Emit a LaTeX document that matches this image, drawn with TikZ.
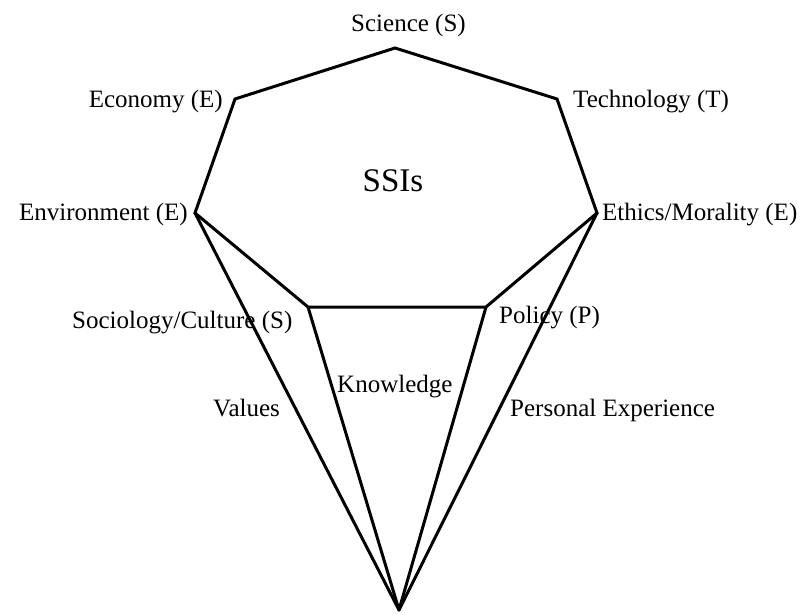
\documentclass[tikz,border=0pt]{standalone}
\usepackage{fontspec}
\setmainfont{Liberation Serif}
\begin{document}
\begin{tikzpicture}[x=1pt,y=-1pt,
  edge/.style={line width=3pt,line join=miter,line cap=round},
  lbl/.style={inner sep=0pt,font=\fontsize{25}{29}\selectfont},
  title/.style={inner sep=0pt,font=\fontsize{33}{38}\selectfont}]
\useasboundingbox (0,0) rectangle (805,615);
% corners of the octagon and the common apex below it
\coordinate (sci) at (395,48);
\coordinate (eco) at (235,99);
\coordinate (tec) at (557,99);
\coordinate (env) at (195,213);
\coordinate (eth) at (597,213);
\coordinate (soc) at (308,307);
\coordinate (pol) at (486,307);
\coordinate (apex) at (399,610);
% octagon
\draw[edge] (sci) -- (eco) -- (env) -- (soc) -- (pol) -- (eth) -- (tec) -- cycle;
% funnel lines to the apex
\draw[edge] (env) -- (apex);
\draw[edge] (soc) -- (apex);
\draw[edge] (pol) -- (apex);
\draw[edge] (eth) -- (apex);
% labels
\node[title] (ssis) at (393,181) {SSIs};
\node[lbl,anchor=base west] (lsci) at (351,32) {Science (S)};
\node[lbl,anchor=base east] (leco) at (223,108) {Economy (E)};
\node[lbl,anchor=base west] (ltec) at (573,108) {Technology (T)};
\node[lbl,anchor=base east] (lenv) at (188,220) {Environment (E)};
\node[lbl,anchor=base west] (leth) at (602,220) {Ethics/Morality (E)};
\node[lbl,anchor=base west] (lsoc) at (72,328) {Sociology/Culture (S)};
\node[lbl,anchor=base west] (lpol) at (499,323) {Policy (P)};
\node[lbl,anchor=base west] (lkno) at (337,392) {Knowledge};
\node[lbl,anchor=base west] (lval) at (213,416) {Values};
\node[lbl,anchor=base west] (lper) at (510,416) {Personal Experience};
\end{tikzpicture}
\end{document}
